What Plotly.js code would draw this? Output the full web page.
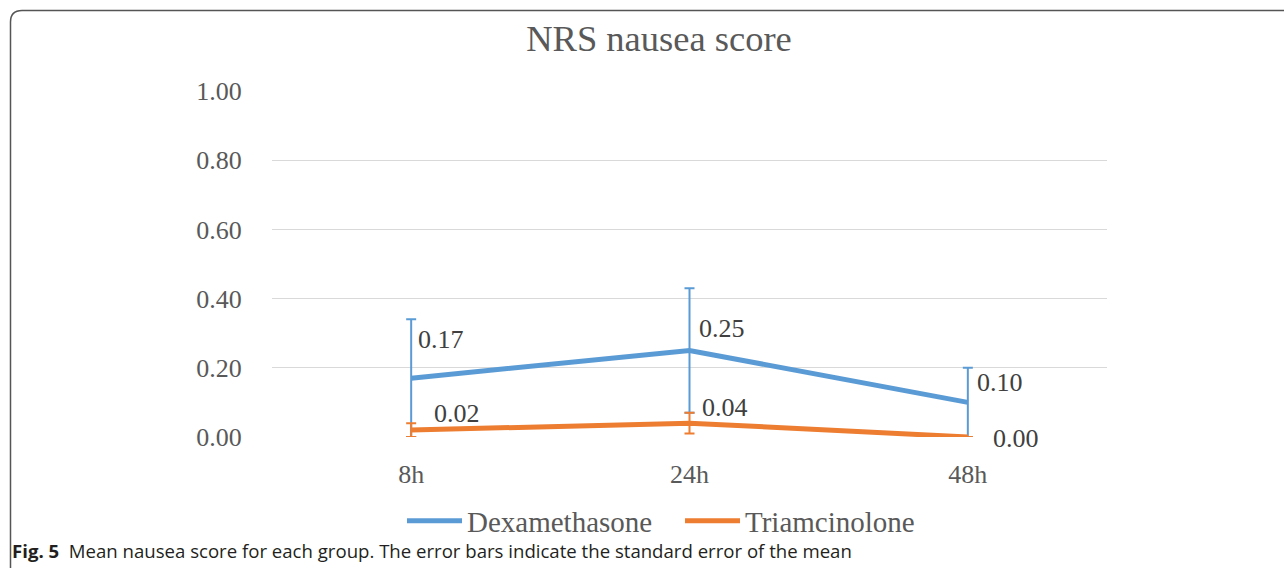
<!DOCTYPE html>
<html>
<head>
<meta charset="utf-8">
<script src="https://cdn.plot.ly/plotly-3.0.1.min.js"></script>
<style>
  html, body { margin: 0; padding: 0; background: #ffffff; }
  #chart { width: 1284px; height: 568px; }
</style>
</head>
<body>
<div id="chart"></div>
<script>
// ---- data ----
const categories = ["8h", "24h", "48h"];
const dexValues = [0.17, 0.25, 0.10];
const dexErrors = [0.17, 0.18, 0.10];
const triValues = [0.02, 0.04, 0.00];
const triErrors = [0.02, 0.03, 0.00];
const yTickValues = [0, 0.2, 0.4, 0.6, 0.8, 1.0];
const yTickLabels = ["0.00", "0.20", "0.40", "0.60", "0.80", "1.00"];
const seriesNames = ["Dexamethasone", "Triamcinolone"];

// ---- styles ----
const blue = "#5B9BD5";
const orange = "#ED7D31";
const textGrey = "#595959";
const serif = "'Liberation Serif', 'Times New Roman', serif";

// label offsets (pixels) for data labels
const dexLabelShift = [[5, 39], [7, 22], [7, 20]];
const triLabelShift = [[21, 17], [10, 16], [23, -1]];

const traces = [
  {
    x: categories, y: dexValues, name: seriesNames[0], type: "scatter", mode: "lines",
    line: { color: blue, width: 5 },
    error_y: { type: "data", array: dexErrors, symmetric: true, visible: true,
               color: blue, thickness: 2, width: 5 }
  },
  {
    x: categories, y: triValues, name: seriesNames[1], type: "scatter", mode: "lines",
    line: { color: orange, width: 5 },
    error_y: { type: "data", array: triErrors, symmetric: true, visible: true,
               color: orange, thickness: 2, width: 5 }
  }
];

const annotations = [];
categories.forEach((c, i) => {
  annotations.push({
    x: c, y: dexValues[i], xref: "x", yref: "y", text: dexValues[i].toFixed(2),
    showarrow: false, xanchor: "left", yanchor: "middle",
    xshift: dexLabelShift[i][0], yshift: dexLabelShift[i][1],
    font: { family: serif, size: 26, color: "#404040" }
  });
  annotations.push({
    x: c, y: triValues[i], xref: "x", yref: "y", text: triValues[i].toFixed(2),
    showarrow: false, xanchor: "left", yanchor: "middle",
    xshift: triLabelShift[i][0], yshift: triLabelShift[i][1],
    font: { family: serif, size: 26, color: "#404040" }
  });
});

// caption
annotations.push({
  xref: "paper", yref: "paper", x: -0.3138, y: -0.3266, xanchor: "left", yanchor: "middle",
  showarrow: false, align: "left",
  text: "<b>Fig. 5</b>  Mean nausea score for each group. The error bars indicate the standard error of the mean",
  font: { family: "'Open Sans', 'Noto Sans', sans-serif", size: 18.6, color: "#231f20" }
});

// border frame with rounded top-left corner (paper coordinates)
const L = 272, T = 91, W = 835, H = 346;
function px(xp) { return (xp - L) / W; }
function py(yp) { return (T + H - yp) / H; }
const framePath = "M " + px(10.5) + "," + py(600) +
  " L " + px(10.5) + "," + py(22) +
  " Q " + px(10.5) + "," + py(10.5) + " " + px(22) + "," + py(10.5) +
  " L " + px(1300) + "," + py(10.5);

const layout = {
  width: 1284, height: 568,
  margin: { l: L, r: 1284 - L - W, t: T, b: 568 - T - H, pad: 0 },
  paper_bgcolor: "#ffffff", plot_bgcolor: "#ffffff",
  showlegend: true,
  title: {
    text: "NRS nausea score",
    font: { family: serif, size: 36.5, color: textGrey },
    xref: "container", yref: "container",
    x: 659 / 1284, y: 1 - 38 / 568, xanchor: "center", yanchor: "middle"
  },
  xaxis: {
    type: "category", range: [-0.5, 2.5],
    showgrid: false, zeroline: false, showline: false,
    ticks: "outside", ticklen: 14, tickcolor: "rgba(0,0,0,0)",
    tickfont: { family: serif, size: 26, color: textGrey },
    fixedrange: true
  },
  yaxis: {
    range: [0, 1], tickvals: yTickValues, ticktext: yTickLabels,
    showgrid: true, gridcolor: "#d9d9d9", gridwidth: 1.3,
    zeroline: false, showline: false,
    ticks: "outside", ticklen: 24, tickcolor: "rgba(0,0,0,0)",
    tickfont: { family: serif, size: 26, color: textGrey },
    fixedrange: true
  },
  legend: {
    orientation: "h", x: px(402), y: py(521), xanchor: "left", yanchor: "middle",
    font: { family: serif, size: 29, color: textGrey },
    itemwidth: 55, entrywidth: 208, entrywidthmode: "pixels",
    bgcolor: "rgba(0,0,0,0)", tracegroupgap: 0
  },
  annotations: annotations,
  shapes: [{
    type: "path", xref: "paper", yref: "paper", path: framePath,
    line: { color: "#555555", width: 1.5 }
  }]
};

Plotly.newPlot("chart", traces, layout, { displayModeBar: false, staticPlot: true });
</script>
</body>
</html>
